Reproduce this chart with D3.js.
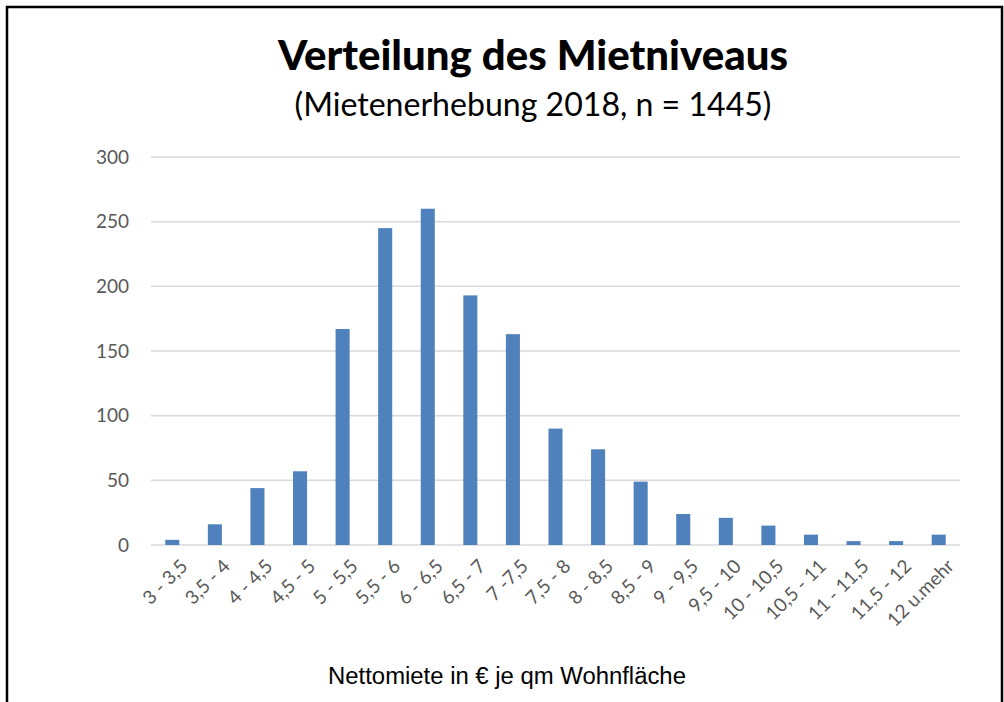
<!DOCTYPE html>
<html lang="de">
<head>
<meta charset="utf-8">
<title>Verteilung des Mietniveaus</title>
<script src="https://cdn.jsdelivr.net/npm/d3@7"></script>
<style>
  html, body { margin: 0; padding: 0; background: #fff; }
  svg { display: block; }
</style>
</head>
<body>
<svg id="chart" width="1004" height="702"></svg>
<script>
// Daten
const kategorien = ["3 - 3,5", "3,5 - 4", "4 - 4,5", "4,5 - 5", "5 - 5,5", "5,5 - 6", "6 - 6,5",
  "6,5 - 7", "7 -7,5", "7,5 - 8", "8 - 8,5", "8,5 - 9", "9 - 9,5", "9,5 - 10", "10 - 10,5",
  "10,5 - 11", "11 - 11,5", "11,5 - 12", "12 u.mehr"];
const anzahl = [4, 16, 44, 57, 167, 245, 260, 193, 163, 90, 74, 49, 24, 21, 15, 8, 3, 3, 8];
const yTicks = [0, 50, 100, 150, 200, 250, 300];

const titel = "Verteilung des Mietniveaus";
const untertitel = "(Mietenerhebung 2018, n = 1445)";
const achsenTitel = "Nettomiete in € je qm Wohnfläche";

zeichneDiagramm();

// Schriftgröße so wählen, dass der Text eine bestimmte Breite hat
function passeBreiteAn(textSel, breite) {
  const node = textSel.node();
  const groesse = parseFloat(textSel.attr("font-size"));
  const ist = node.getComputedTextLength();
  if (ist > 0) textSel.attr("font-size", (groesse * breite / ist).toFixed(2));
}

function zeichneDiagramm() {
  const svg = d3.select("#chart");

  // Rahmen
  svg.append("rect")
      .attr("x", 7).attr("y", 7)
      .attr("width", 995).attr("height", 720)
      .attr("fill", "none")
      .attr("stroke", "#000")
      .attr("stroke-width", 2.5);

  const x = d3.scaleBand()
      .domain(kategorien)
      .range([151, 960])
      .paddingInner(0.67)
      .paddingOuter(0.335);

  const y = d3.scaleLinear()
      .domain([0, 300])
      .range([545, 157]);

  // Gitterlinien
  svg.append("g")
      .selectAll("line")
      .data(yTicks)
      .enter().append("line")
      .attr("x1", 151).attr("x2", 960)
      .attr("y1", d => y(d)).attr("y2", d => y(d))
      .attr("stroke", "#d9d9d9")
      .attr("stroke-width", 1.5);

  // Y-Achse Beschriftung
  svg.append("g")
      .selectAll("text")
      .data(yTicks)
      .enter().append("text")
      .attr("x", 129)
      .attr("y", d => y(d))
      .attr("dy", "0.35em")
      .attr("text-anchor", "end")
      .attr("font-family", "Lato, 'Open Sans', sans-serif")
      .attr("font-size", 19)
      .attr("fill", "#595959")
      .text(d => d);

  // Balken
  svg.append("g")
      .selectAll("rect")
      .data(anzahl)
      .enter().append("rect")
      .attr("x", (d, i) => x(kategorien[i]))
      .attr("y", d => y(d))
      .attr("width", x.bandwidth())
      .attr("height", d => y(0) - y(d))
      .attr("fill", "#4f81bd");

  // X-Achse Beschriftung (gedreht)
  svg.append("g")
      .selectAll("text")
      .data(kategorien)
      .enter().append("text")
      .attr("transform", d => {
        const cx = x(d) + x.bandwidth() / 2 + 7;
        return "translate(" + cx + ",558) rotate(-45)";
      })
      .attr("dy", "0.7em")
      .attr("text-anchor", "end")
      .attr("font-family", "Lato, 'Open Sans', sans-serif")
      .attr("font-size", 19)
      .attr("fill", "#595959")
      .text(d => d);

  // Titel
  const t1 = svg.append("text")
      .attr("x", 533).attr("y", 70)
      .attr("text-anchor", "middle")
      .attr("font-family", "Lato, 'Open Sans', sans-serif")
      .attr("font-weight", 900)
      .attr("font-size", 38)
      .attr("fill", "#000")
      .text(titel);
  passeBreiteAn(t1, 510);

  const t2 = svg.append("text")
      .attr("x", 533).attr("y", 116)
      .attr("text-anchor", "middle")
      .attr("font-family", "Lato, 'Open Sans', sans-serif")
      .attr("font-size", 30)
      .attr("fill", "#000")
      .text(untertitel);
  passeBreiteAn(t2, 477);

  // Achsentitel
  const t3 = svg.append("text")
      .attr("x", 507).attr("y", 684)
      .attr("text-anchor", "middle")
      .attr("font-family", "'Liberation Sans Narrow', 'Liberation Sans', Arial, sans-serif")
      .attr("font-size", 20)
      .attr("fill", "#000")
      .text(achsenTitel);
  passeBreiteAn(t3, 358);
}
</script>
</body>
</html>
